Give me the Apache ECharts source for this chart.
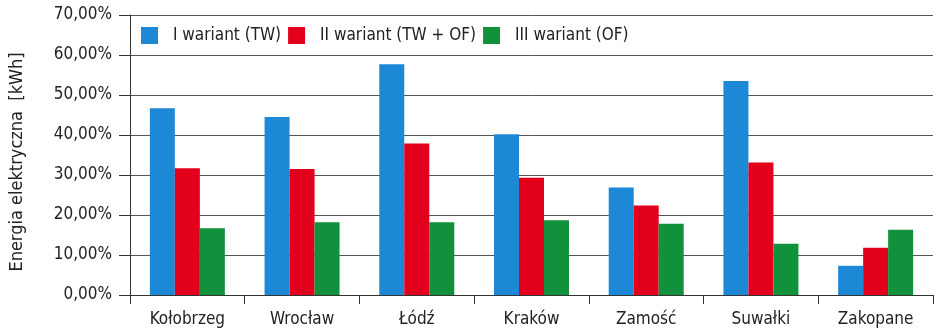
<!DOCTYPE html>
<html><head><meta charset="utf-8">
<script src="https://cdn.jsdelivr.net/npm/echarts@6/dist/echarts.min.js"></script>
<style>html,body{margin:0;padding:0;background:#fff}#c{width:938px;height:330px}</style>
</head><body><div id="c"></div>
<script>
var categories = ['Kołobrzeg','Wrocław','Łódź','Kraków','Zamość','Suwałki','Zakopane'];
var seriesNames = ['I wariant (TW)','II wariant (TW + OF)','III wariant (OF)'];
var wariant1 = [46.7, 44.5, 57.7, 40.2, 26.9, 53.5, 7.3];
var wariant2 = [31.7, 31.5, 37.9, 29.3, 22.4, 33.1, 11.8];
var wariant3 = [16.7, 18.2, 18.2, 18.7, 17.8, 12.8, 16.3];
var yMin = 0, yMax = 70, yStep = 10;
var yName = 'Energia elektryczna  [kWh]';

var FONT = '"DejaVu Sans Condensed","Liberation Sans Narrow",sans-serif';
var colors = ['#1c88d6','#e2001c','#12913d'];
var chart = echarts.init(document.getElementById('c'), null, {renderer:'canvas'});
function mk(name, data, i){
  return {name:name, type:'bar', data:data, barWidth:25, barGap:'0%',
    itemStyle:{color:colors[i]}};
}
chart.setOption({
  animation:false,
  textStyle:{fontFamily:FONT},
  legend:{left:141, top:27, itemWidth:17, itemHeight:17, itemGap:7,
    icon:'rect', backgroundColor:'#fff', padding:[0,4,0,0],
    textStyle:{fontFamily:FONT, fontSize:17, color:'#222', padding:[0,0,0,10]},
    data:seriesNames},
  grid:{left:130, right:5, top:15, bottom:35, outerBoundsMode:'none', containLabel:false},
  xAxis:{type:'category', data:categories,
    axisLine:{lineStyle:{color:'#333', width:1}},
    axisTick:{show:true, length:9, lineStyle:{color:'#333'}},
    axisLabel:{fontFamily:FONT, fontSize:17, color:'#222', margin:16}},
  yAxis:{type:'value', min:yMin, max:yMax, interval:yStep,
    name:yName, nameLocation:'middle', nameGap:104, nameRotate:90,
    nameTextStyle:{fontFamily:FONT, fontSize:18, color:'#222', padding:[0,14,0,0]},
    axisLine:{show:true, lineStyle:{color:'#333'}},
    axisTick:{show:true, length:11, lineStyle:{color:'#333'}},
    splitLine:{lineStyle:{color:'#555', width:1}},
    axisLabel:{fontFamily:FONT, fontSize:17, color:'#222', margin:18,
      formatter:function(v){return v.toFixed(2).replace('.',',')+'%';}}},
  series:[mk(seriesNames[0],wariant1,0), mk(seriesNames[1],wariant2,1), mk(seriesNames[2],wariant3,2)]
});
</script></body></html>
